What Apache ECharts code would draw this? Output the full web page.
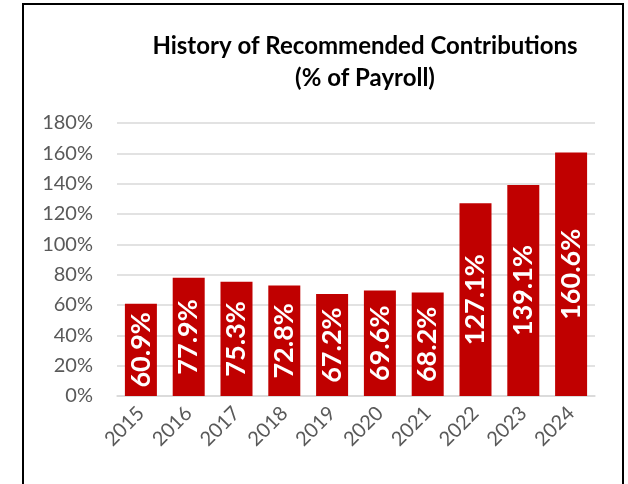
<!DOCTYPE html>
<html>
<head>
<meta charset="utf-8">
<script src="https://cdn.jsdelivr.net/npm/echarts@6/dist/echarts.min.js"></script>
<style>
    html, body { margin: 0; padding: 0; background: #fff; }
    #chart { width: 628px; height: 484px; }
</style>
</head>
<body>
<div id="chart"></div>
<script>
const years = ['2015', '2016', '2017', '2018', '2019', '2020', '2021', '2022', '2023', '2024'];
const contributions = [60.9, 77.9, 75.3, 72.8, 67.2, 69.6, 68.2, 127.1, 139.1, 160.6];
const titleLines = ['History of Recommended Contributions', '(% of Payroll)'];

let myChart = echarts.init(document.getElementById('chart'));

let option = {
    backgroundColor: '#fff',
    textStyle: { fontFamily: 'Lato' },
    title: {
        text: titleLines.join('\n'),
        left: 360,
        top: 25,
        textAlign: 'center',
        textStyle: {
            fontFamily: 'Lato',
            fontWeight: 'bold',
            fontSize: 24,
            lineHeight: 32,
            color: '#000'
        }
    },
    // frame round the chart
    graphic: [
        {
            type: 'rect',
            shape: { x: 23, y: 4, width: 600, height: 500 },
            style: { fill: 'none', stroke: '#000', lineWidth: 2 },
            silent: true
        }
    ],
    grid: { left: 117, right: 33, top: 123, bottom: 88 },
    xAxis: {
        type: 'category',
        data: years,
        axisLine: { lineStyle: { color: '#d9d9d9', width: 1.5 } },
        axisTick: { show: false },
        axisLabel: {
            rotate: 45,
            margin: 14,
            color: '#595959',
            fontSize: 20,
            fontFamily: 'Lato'
        }
    },
    yAxis: {
        type: 'value',
        min: 0,
        max: 180,
        interval: 20,
        axisLine: { show: false },
        axisTick: { show: false },
        splitLine: { lineStyle: { color: '#d9d9d9', width: 1.5 } },
        axisLabel: {
            formatter: '{value}%',
            margin: 24,
            color: '#595959',
            fontSize: 20,
            fontFamily: 'Lato'
        }
    },
    series: [
        {
            type: 'bar',
            data: contributions,
            barWidth: 32,
            itemStyle: { color: '#c00000' },
            label: {
                show: true,
                position: 'inside',
                rotate: 90,
                formatter: p => p.value.toFixed(1) + '%',
                color: '#fff',
                fontWeight: 'bold',
                fontSize: 27,
                fontFamily: 'Lato'
            }
        }
    ]
};

myChart.setOption(option);
</script>
</body>
</html>
